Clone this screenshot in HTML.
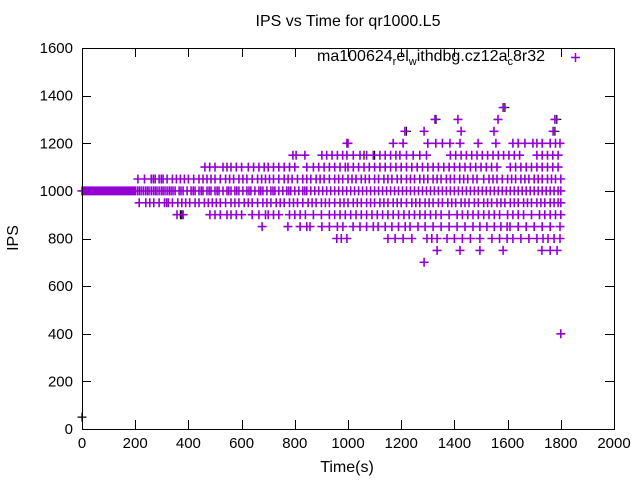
<!DOCTYPE html>
<html><head><meta charset="utf-8"><style>
html,body{margin:0;padding:0;background:#fff;}
svg{display:block;font-family:"Liberation Sans",sans-serif;}
</style></head><body>
<svg id="chart" width="640" height="480" viewBox="0 0 640 480" xmlns="http://www.w3.org/2000/svg">
<rect width="640" height="480" fill="#fff"/>
<text x="348" y="26" font-size="16" text-anchor="middle">IPS vs Time for qr1000.L5</text>
<text x="347" y="472" font-size="16" text-anchor="middle">Time(s)</text>
<text transform="translate(18,238) rotate(-90)" font-size="16" text-anchor="middle">IPS</text>
<g id="ticks"></g>
<g id="marks"></g>
<rect x="82.5" y="48.5" width="532" height="381" fill="none" stroke="#000" stroke-width="1"/>
<g>
<text x="545" y="61" font-size="16" text-anchor="end">ma100624<tspan font-size="11" dy="4">r</tspan><tspan dy="-4">el</tspan><tspan font-size="11" dy="4">w</tspan><tspan dy="-4">ithdbg.cz12a</tspan><tspan font-size="11" dy="4">c</tspan><tspan dy="-4">8r32</tspan></text>
<path d="M571,57.5h9M575.5,53v9" stroke="#9400d3" stroke-width="1.5"/>
</g>
</svg>
<script>
const xTicks=[0,200,400,600,800,1000,1200,1400,1600,1800,2000];
const yTicks=[0,200,400,600,800,1000,1200,1400,1600];
const t1000=[0,5,10,15,20,25,30,35,40,45,50,55,60,65,70,75,80,85,90,95,100,105,110,115,120,125,130,135,140,145,150,155,160,165,170,175,180,185,190,195,200,208,215,222,230,238,245,252,260,268,275,282,290,298,305,312,320,328,335,342,350,365,372,380,395,410,418,425,440,448,455,470,478,485,500,508,515,530,545,552,560,575,582,590,605,620,628,635,650,665,672,680,695,710,718,725,740,755,770,778,785,800,815,830,838,845,860,875,890,905,920,935,950,965,980,995,1010,1025,1040,1055,1070,1085,1100,1115,1130,1145,1160,1175,1190,1205,1220,1235,1250,1265,1280,1295,1310,1325,1340,1355,1370,1385,1400,1415,1430,1445,1460,1475,1490,1505,1520,1535,1550,1565,1580,1595,1610,1625,1640,1655,1670,1685,1700,1715,1730,1745,1760,1775,1790,1800];
const t1050=[210,235,260,268,275,290,298,305,320,340,355,370,385,400,420,440,455,470,485,500,520,540,555,570,590,605,620,640,660,675,690,705,720,740,760,775,790,810,830,845,860,880,895,910,930,950,965,980,1000,1015,1030,1050,1065,1080,1100,1115,1135,1150,1165,1185,1200,1220,1235,1250,1270,1285,1300,1320,1335,1350,1370,1385,1400,1420,1435,1450,1470,1485,1510,1530,1545,1560,1580,1600,1615,1630,1650,1665,1680,1700,1715,1730,1750,1765,1780,1800];
const t950=[215,240,255,270,290,310,318,325,340,360,375,390,405,425,440,460,475,490,505,520,540,560,575,590,610,625,640,660,680,695,710,730,745,760,780,795,810,830,850,865,880,900,915,930,950,970,985,1000,1020,1035,1050,1070,1085,1100,1120,1135,1150,1170,1185,1200,1220,1240,1255,1270,1290,1305,1320,1340,1355,1375,1390,1405,1425,1440,1455,1475,1490,1510,1525,1540,1560,1575,1590,1610,1625,1640,1660,1675,1690,1710,1725,1740,1760,1775,1790,1800];
const t1100=[462,480,500,530,545,560,580,600,625,645,665,685,700,720,740,760,780,800,845,870,890,910,930,950,970,990,1000,1020,1040,1060,1080,1100,1120,1140,1160,1180,1200,1220,1240,1260,1280,1300,1320,1340,1360,1380,1400,1420,1440,1460,1480,1500,1520,1540,1560,1610,1630,1650,1670,1690,1710,1730,1750,1770,1790];
const t900=[357,380,481,500,520,545,560,580,600,640,665,690,700,720,740,780,800,820,840,870,900,930,950,970,990,1010,1030,1050,1070,1090,1110,1130,1150,1170,1190,1210,1230,1250,1270,1290,1310,1330,1350,1380,1410,1430,1450,1470,1490,1510,1530,1550,1570,1600,1620,1640,1660,1690,1720,1740,1760,1780,1800];
const t1150=[793,805,838,902,920,940,960,980,996,1020,1045,1070,1095,1120,1140,1160,1180,1195,1220,1245,1270,1295,1385,1405,1425,1445,1465,1485,1505,1525,1545,1565,1585,1605,1625,1645,1710,1730,1750,1770,1790];
const t850=[677,774,820,845,857,902,930,960,981,1019,1045,1070,1095,1113,1140,1165,1190,1215,1233,1263,1290,1320,1350,1380,1410,1440,1470,1496,1522,1550,1575,1598,1609,1640,1670,1700,1730,1760,1797];
const t1200=[996,1000,1170,1207,1300,1330,1355,1383,1421,1489,1556,1620,1640,1665,1695,1710,1730,1760,1780,1797];
const t800=[958,975,996,1150,1177,1207,1240,1297,1315,1335,1372,1400,1430,1460,1496,1541,1570,1598,1620,1650,1680,1710,1733,1752,1775,1797];
const t1250=[1214,1286,1425,1549,1771];
const t750=[1335,1421,1496,1583,1729,1760,1786];
const t1300=[1327,1413,1564,1778];
const t1350=[1583];
const t700=[1286];
const t400=[1800];
const blackTimes=[0,370,375,1220,1331,1590,1778,1785,1060,1100];
const blackValues=[50,900,900,1250,1300,1350,1250,1300,1150,1150];

const X0=82,X1=614,Y0=429,Y1=48;
const xs=t=>X0+(t/2000)*(X1-X0);
const ys=v=>Y0-(v/1600)*(Y0-Y1);
const NS='http://www.w3.org/2000/svg';
const ticks=document.getElementById('ticks');
const marks=document.getElementById('marks');
let td='';
xTicks.forEach(v=>{const x=Math.round(xs(v))+0.5;td+=`M${x},429V420M${x},48V57`;
 const t=document.createElementNS(NS,'text');t.setAttribute('x',xs(v));t.setAttribute('y',448);t.setAttribute('font-size','15');t.setAttribute('text-anchor','middle');t.textContent=v;
 
 
 ticks.appendChild(t);});
yTicks.forEach(v=>{const y=Math.round(ys(v))+0.5;td+=`M82,${y}H91M614,${y}H605`;
 const t=document.createElementNS(NS,'text');t.setAttribute('x',73);t.setAttribute('y',ys(v)+5);t.setAttribute('font-size','15');t.setAttribute('text-anchor','end');t.textContent=v;
 
 
 ticks.appendChild(t);});
const tp=document.createElementNS(NS,'path');tp.setAttribute('d',td);tp.setAttribute('stroke','#000');tp.setAttribute('fill','none');


ticks.appendChild(tp);

function plus(t,v){const x=xs(t),y=ys(v);return `M${(x-4.5).toFixed(1)},${y.toFixed(1)}h9M${x.toFixed(1)},${(y-4.5).toFixed(1)}v9`;}
let bd='';blackTimes.forEach((t,i)=>{bd+=plus(t,blackValues[i]);});
const bp=document.createElementNS(NS,'path');bp.setAttribute('d',bd);bp.setAttribute('stroke','#000');bp.setAttribute('stroke-width','1.2');bp.setAttribute('fill','none');


marks.appendChild(bp);
const levels=[[t1000,1000],[t1050,1050],[t950,950],[t1100,1100],[t900,900],[t1150,1150],[t850,850],[t1200,1200],[t800,800],[t1250,1250],[t750,750],[t1300,1300],[t1350,1350],[t700,700],[t400,400]];
let pd='';levels.forEach(([ts,v])=>ts.forEach(t=>{pd+=plus(t,v);}));
const pp=document.createElementNS(NS,'path');pp.setAttribute('d',pd);pp.setAttribute('stroke','#9400d3');pp.setAttribute('stroke-width','1.6');pp.setAttribute('fill','none');


marks.appendChild(pp);
</script>
</body></html>
